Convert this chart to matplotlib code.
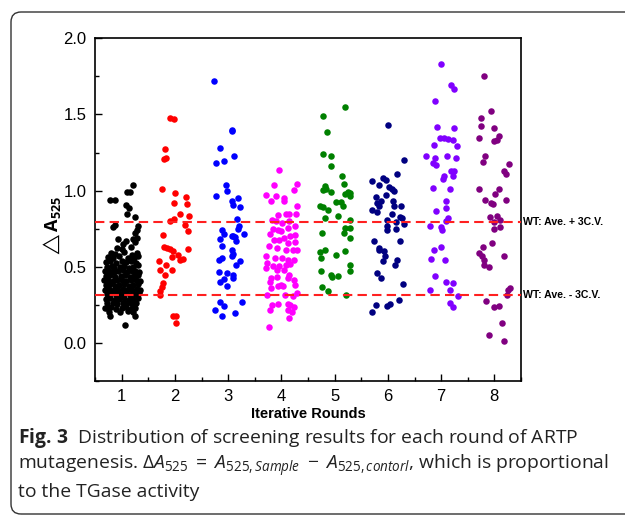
import matplotlib.pyplot as plt
from matplotlib.patches import FancyBboxPatch
from matplotlib.ticker import MultipleLocator

# screening results per round (x = jittered round position)
r1_x = [1.21, 1.16, 1.11, 0.78, 0.88, 1.08, 1.13, 1.11, 1.25, 0.88, 0.83, 1.30, 1.28, 1.26, 0.94, 1.08, 1.03, 1.22, 1.25, 1.29,
        0.92, 1.00, 1.17,
        0.80, 0.87, 1.05, 1.20, 1.28,
        0.74, 0.83, 0.95, 1.12, 1.24, 1.31,
        0.70, 0.78, 0.90, 1.00, 1.08, 1.18, 1.27,
        0.72, 0.81, 0.86, 0.97, 1.05, 1.14, 1.22, 1.30,
        0.68, 0.76, 0.85, 0.93, 1.02, 1.10, 1.19, 1.26, 1.33,
        0.71, 0.79, 0.88, 0.98, 1.06, 1.15, 1.23, 1.31,
        0.67, 0.75, 0.83, 0.92, 1.01, 1.09, 1.18, 1.27, 1.34,
        0.70, 0.79, 0.87, 0.96, 1.04, 1.13, 1.21, 1.30,
        0.68, 0.76, 0.85, 0.94, 1.03, 1.11, 1.20, 1.28, 1.34,
        0.72, 0.80, 0.89, 0.99, 1.07, 1.16, 1.25, 1.32,
        0.70, 0.78, 0.87, 0.95, 1.05, 1.13, 1.22, 1.30,
        0.73, 0.83, 0.92, 1.02, 1.10, 1.19, 1.27,
        0.69, 0.80, 0.90, 1.00, 1.08, 1.17, 1.25,
        0.76, 0.97, 1.12, 1.22,
        0.79, 1.06, 1.26, 0.72]
r1_y = [1.037, 0.993, 0.993, 0.94, 0.94, 0.908, 0.886, 0.846, 0.825, 0.772, 0.759, 0.766, 0.744, 0.722, 0.682, 0.671, 0.652, 0.682, 0.66, 0.69,
        0.625, 0.615, 0.63,
        0.59, 0.585, 0.595, 0.58, 0.59,
        0.565, 0.56, 0.57, 0.555, 0.56, 0.57,
        0.53, 0.535, 0.525, 0.54, 0.53, 0.535, 0.525,
        0.50, 0.505, 0.495, 0.50, 0.505, 0.495, 0.50, 0.51,
        0.47, 0.475, 0.465, 0.47, 0.48, 0.465, 0.47, 0.475, 0.465,
        0.44, 0.445, 0.435, 0.44, 0.445, 0.435, 0.44, 0.445,
        0.41, 0.415, 0.405, 0.41, 0.415, 0.405, 0.41, 0.415, 0.405,
        0.38, 0.385, 0.375, 0.38, 0.385, 0.375, 0.38, 0.385,
        0.35, 0.355, 0.345, 0.35, 0.355, 0.345, 0.35, 0.355, 0.345,
        0.32, 0.325, 0.315, 0.32, 0.325, 0.315, 0.32, 0.325,
        0.29, 0.295, 0.285, 0.29, 0.295, 0.285, 0.29, 0.295,
        0.26, 0.265, 0.255, 0.26, 0.265, 0.255, 0.26,
        0.23, 0.235, 0.225, 0.23, 0.235, 0.225, 0.23,
        0.205, 0.20, 0.21, 0.20,
        0.179, 0.12, 0.179, 0.23]

r2_x = [1.91, 1.99, 1.82, 1.80, 1.83, 1.75, 2.00, 2.21, 2.22, 1.99, 2.10, 2.26, 1.90, 1.98, 2.19, 2.24, 1.77,
        1.80, 1.86, 1.91, 1.96, 2.24, 1.94, 2.05, 2.10, 2.15, 1.71, 1.72, 1.84, 1.94, 1.82, 1.77, 1.75,
        1.73, 1.73, 1.96, 2.03, 2.02]
r2_y = [1.476, 1.470, 1.273, 1.207, 1.214, 1.01, 0.984, 0.956, 0.914, 0.916, 0.846, 0.836, 0.803, 0.814, 0.776, 0.733, 0.706,
        0.63, 0.623, 0.617, 0.601, 0.617, 0.562, 0.58, 0.547, 0.551, 0.54, 0.481, 0.514, 0.477, 0.448, 0.394, 0.365,
        0.339, 0.313, 0.179, 0.179, 0.131]

r3_x = [2.74, 3.07, 3.08, 2.84, 3.11, 2.77, 2.93, 2.96, 2.97, 2.77, 3.18, 3.08, 3.10, 3.23, 3.16, 3.21, 3.18, 2.88,
        3.29, 2.92, 3.07, 3.13, 3.10, 2.85, 3.15, 2.88, 3.07, 3.09, 3.07, 2.82, 2.88, 3.23, 3.15, 2.83, 2.98,
        3.10, 3.09, 2.93, 2.85, 2.98, 3.26, 2.84, 2.93, 2.75, 3.13, 2.89]
r3_y = [1.717, 1.40, 1.389, 1.28, 1.229, 1.181, 1.196, 1.039, 0.995, 0.962, 0.951, 0.93, 0.903, 0.892, 0.814, 0.766, 0.748, 0.744,
        0.717, 0.715, 0.70, 0.696, 0.704, 0.682, 0.667, 0.639, 0.612, 0.586, 0.569, 0.547, 0.556, 0.536, 0.514, 0.464, 0.459,
        0.448, 0.427, 0.42, 0.40, 0.376, 0.267, 0.267, 0.241, 0.219, 0.197, 0.179]

r4_x = [3.96, 3.86, 4.30, 4.23, 3.71, 3.90, 3.80, 4.04, 4.05, 4.30, 3.93, 4.09, 4.15, 4.28, 3.82, 3.90, 4.01, 4.14,
        3.84, 3.93, 4.12, 4.26, 3.79, 3.99, 4.17, 4.26, 3.86, 3.96, 4.04, 4.12, 4.26, 3.76, 3.91, 4.09, 4.22, 4.30,
        3.71, 3.88, 4.01, 4.12, 4.23, 3.73, 3.84, 3.96, 4.09, 4.17, 3.71, 3.91, 4.04, 4.15, 4.12, 3.80, 3.91,
        4.24, 4.26, 3.99, 3.93, 4.03, 3.79, 3.80, 3.73, 4.07, 4.29, 4.22, 3.93, 3.82, 3.79, 4.12, 4.17, 4.24,
        4.13, 4.20, 4.15, 3.76]
r4_y = [1.133, 1.035, 1.045, 1.006, 0.969, 0.967, 0.93, 0.951, 0.93, 0.897, 0.842, 0.846, 0.846, 0.849, 0.81, 0.80, 0.79, 0.80,
        0.748, 0.744, 0.755, 0.766, 0.717, 0.733, 0.704, 0.711, 0.674, 0.674, 0.689, 0.656, 0.661, 0.634, 0.623, 0.608, 0.612, 0.612,
        0.573, 0.558, 0.558, 0.547, 0.542, 0.525, 0.507, 0.503, 0.512, 0.518, 0.492, 0.481, 0.481, 0.448, 0.427, 0.427, 0.433,
        0.416, 0.383, 0.383, 0.376, 0.376, 0.398, 0.361, 0.313, 0.313, 0.328, 0.306, 0.258, 0.252, 0.219, 0.258, 0.252, 0.236,
        0.219, 0.201, 0.164, 0.103]

r5_x = [5.19, 4.78, 4.85, 4.79, 4.94, 4.94, 5.14, 5.17, 4.82, 4.79, 4.84, 4.93, 5.20, 5.28, 5.29, 5.25, 5.03, 5.12, 5.16,
        4.72, 4.78, 4.87, 5.07, 4.82, 5.28, 5.20, 5.29, 5.17, 5.28, 4.77, 4.82, 4.73, 4.74, 5.02, 5.19, 5.29, 5.29,
        4.74, 4.94, 4.95, 5.06, 4.76, 4.87, 5.21]
r5_y = [1.546, 1.492, 1.385, 1.24, 1.225, 1.164, 1.094, 1.045, 1.028, 1.006, 1.01, 0.989, 0.978, 0.984, 0.962, 0.989, 0.923, 0.923, 0.897,
        0.901, 0.892, 0.875, 0.836, 0.82, 0.805, 0.755, 0.755, 0.722, 0.689, 0.722, 0.612, 0.595, 0.558, 0.58, 0.601, 0.514, 0.475,
        0.47, 0.448, 0.433, 0.437, 0.365, 0.339, 0.313]

r6_x = [6.00, 6.30, 6.17, 5.71, 5.91, 5.97, 5.84, 6.03, 6.08, 6.12, 5.97, 5.78, 5.87, 5.79, 5.83, 6.10, 6.11, 6.25,
        5.71, 5.79, 6.08, 6.23, 6.26, 5.99, 6.16, 6.30, 5.99, 5.99, 6.16, 5.74, 6.23, 5.83, 5.84, 5.93, 5.95, 5.91,
        6.18, 6.14, 5.79, 5.87, 6.28, 6.20, 5.78, 6.04, 5.98, 5.70]
r6_y = [1.433, 1.199, 1.111, 1.065, 1.083, 1.067, 1.035, 1.024, 1.01, 1.0, 0.973, 0.958, 0.93, 0.919, 0.901, 0.93, 0.901, 0.901,
        0.875, 0.857, 0.846, 0.825, 0.82, 0.805, 0.792, 0.783, 0.766, 0.744, 0.748, 0.667, 0.667, 0.623, 0.608, 0.601, 0.569, 0.536,
        0.542, 0.514, 0.459, 0.427, 0.387, 0.284, 0.252, 0.258, 0.241, 0.201]

r7_x = [7.00, 7.19, 7.25, 6.89, 6.93, 7.25, 6.97, 7.06, 7.12, 7.22, 6.87, 7.29, 6.72, 7.11, 6.89, 7.27, 6.85, 6.91,
        7.06, 7.03, 7.18, 7.25, 7.22, 6.84, 7.16, 7.10, 7.09, 6.90, 7.12, 7.10, 6.79, 7.00, 7.02, 6.86, 7.00,
        6.81, 7.08, 6.89, 7.10, 7.22, 6.80, 7.17, 7.31, 7.16, 7.22]
r7_y = [1.831, 1.695, 1.669, 1.586, 1.415, 1.409, 1.345, 1.345, 1.339, 1.334, 1.297, 1.29, 1.229, 1.229, 1.214, 1.214, 1.181, 1.17,
        1.098, 1.076, 1.126, 1.126, 1.094, 1.017, 1.01, 0.93, 0.886, 0.868, 0.82, 0.798, 0.766, 0.761, 0.744, 0.608, 0.63,
        0.551, 0.547, 0.437, 0.398, 0.394, 0.35, 0.346, 0.306, 0.262, 0.236]

r8_x = [7.81, 7.94, 7.75, 7.74, 8.00, 7.72, 8.08, 8.05, 7.99, 7.83, 7.79, 8.27, 8.18, 8.21, 7.72, 8.08, 8.02,
        7.83, 7.94, 7.98, 8.21, 7.92, 8.05, 7.99, 8.11, 8.00, 8.10, 7.96, 7.79, 7.71, 7.77, 7.81, 7.80, 7.89,
        8.18, 8.29, 8.25, 8.23, 7.85, 8.00, 8.09, 8.14, 7.89, 8.18]
r8_y = [1.754, 1.525, 1.476, 1.422, 1.411, 1.345, 1.356, 1.334, 1.323, 1.225, 1.188, 1.175, 1.126, 1.111, 1.01, 1.01, 0.98,
        0.94, 0.919, 0.914, 0.936, 0.825, 0.836, 0.792, 0.805, 0.748, 0.761, 0.656, 0.63, 0.591, 0.573, 0.547, 0.514, 0.499,
        0.573, 0.361, 0.346, 0.313, 0.273, 0.236, 0.241, 0.131, 0.055, 0.015]

round_colors = ['black', 'red', 'blue', 'magenta', 'green', 'navy', '#8000ff', 'purple']
rounds = [1, 2, 3, 4, 5, 6, 7, 8]

wt_upper = 0.797   # WT: Ave. + 3C.V.
wt_lower = 0.317   # WT: Ave. - 3C.V.

plt.rcParams['font.family'] = ['Liberation Sans', 'DejaVu Sans']
plt.rcParams['mathtext.fontset'] = 'custom'
plt.rcParams['mathtext.rm'] = 'Open Sans'
plt.rcParams['mathtext.it'] = 'Open Sans:italic'
plt.rcParams['mathtext.bf'] = 'Open Sans:bold'

fig = plt.figure(figsize=(6.25, 5.17), dpi=100)
ax = fig.add_axes([0.152, 0.263, 0.6816, 0.6629])

all_x = [r1_x, r2_x, r3_x, r4_x, r5_x, r6_x, r7_x, r8_x]
all_y = [r1_y, r2_y, r3_y, r4_y, r5_y, r6_y, r7_y, r8_y]
for xs, ys, c in zip(all_x, all_y, round_colors):
    ax.scatter(xs, ys, s=22, color=c, linewidths=0, zorder=3)

for lvl in (wt_upper, wt_lower):
    ax.axhline(lvl, color='#ff2020', lw=1.5, dashes=(4.5, 2.5), zorder=4)
ytr = ax.get_yaxis_transform()
ax.text(1.005, wt_upper, 'WT: Ave. + 3C.V.', transform=ytr, fontsize=7.6, fontweight='bold', va='center')
ax.text(1.005, wt_lower, 'WT: Ave. - 3C.V.', transform=ytr, fontsize=7.6, fontweight='bold', va='center')

ax.set_xlim(0.5, 8.5)
ax.set_ylim(-0.25, 2.0)
ax.set_xticks(rounds)
ax.xaxis.set_minor_locator(MultipleLocator(0.5))
ax.yaxis.set_major_locator(MultipleLocator(0.5))
ax.yaxis.set_minor_locator(MultipleLocator(0.25))
ax.tick_params(which='both', direction='in', labelsize=12, width=1.0)
ax.tick_params(which='major', length=5, pad=6)
ax.tick_params(which='minor', length=3)
for sp in ax.spines.values():
    sp.set_linewidth(1.2)

ax.set_xlabel('Iterative Rounds', fontsize=10.5, fontweight='bold', labelpad=2)
ax.text(-0.1, 0.45, r'$\triangle\mathbf{A}_{\mathbf{525}}$', transform=ax.transAxes, rotation=90,
        ha='center', va='center', fontsize=13)

# caption
cap_kw = dict(fontsize=13.9, family='Open Sans', color='#222222')
fig.text(0.029, 1 - 443 / 517, r'$\mathbf{Fig.\,3}$  Distribution of screening results for each round of ARTP', **cap_kw)
fig.text(0.029, 1 - 470 / 517,
         r'mutagenesis. $\mathrm{\Delta}A_{525}\;=\;A_{525,Sample}\;-\;A_{525,contorl}$, which is proportional',
         **cap_kw)
fig.text(0.029, 1 - 497 / 517, 'to the TGase activity', **cap_kw)

frame = FancyBboxPatch((0.11, 0.03), 6.5, 5.02, boxstyle='round,pad=0,rounding_size=0.1',
                       transform=fig.dpi_scale_trans, fill=False, ec='#333333', lw=1.0)
fig.patches.append(frame)

fig.savefig('out.png', dpi=100)
